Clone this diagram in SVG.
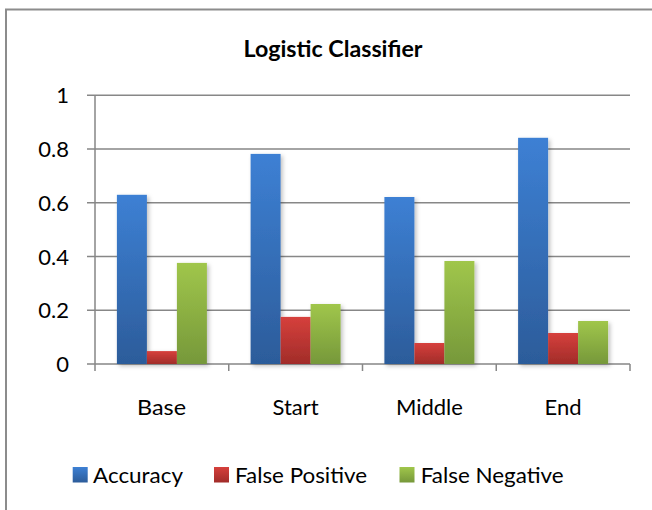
<svg xmlns="http://www.w3.org/2000/svg" width="652" height="510" viewBox="0 0 652 510">
<style>
  .grid{stroke:#878787;stroke-width:1.5;fill:none}
  .lbl{font-family:Lato,"Open Sans","Liberation Sans",sans-serif;font-size:22px;fill:#000}
  .ylbl{text-anchor:end}
  .cat{text-anchor:middle}
  .title{font-family:Lato,"Open Sans","Liberation Sans",sans-serif;font-size:22px;font-weight:bold;fill:#000;text-anchor:middle}
</style>
<defs>
  <linearGradient id="gBlue" x1="0" y1="0" x2="0" y2="1">
    <stop offset="0" stop-color="#3d80d4"/>
    <stop offset="1" stop-color="#2c5c9a"/>
  </linearGradient>
  <linearGradient id="gRed" x1="0" y1="0" x2="0" y2="1">
    <stop offset="0" stop-color="#d6403c"/>
    <stop offset="1" stop-color="#a12c29"/>
  </linearGradient>
  <linearGradient id="gGreen" x1="0" y1="0" x2="0" y2="1">
    <stop offset="0" stop-color="#a0c64b"/>
    <stop offset="1" stop-color="#76983a"/>
  </linearGradient>
  <filter id="sh" x="-20%" y="-5%" width="150%" height="115%">
    <feDropShadow dx="2" dy="2" stdDeviation="2" flood-color="#000" flood-opacity="0.25"/>
  </filter>
</defs>
<rect x="0" y="0" width="652" height="510" fill="#fff"/>
<path d="M6,520 L6,9.5 L660,9.5" stroke="#8c8c8c" stroke-width="2" fill="none"/>
<text id="title" class="title" x="333" y="57" textLength="179" lengthAdjust="spacingAndGlyphs">Logistic Classifier</text>
<g id="axes">
  <path class="grid" d="M87,95.3H630M87,149H630M87,202.8H630M87,256.5H630M87,310.3H630M87,364H630"/>
  <path class="grid" d="M95,95.3V364M95,364V371M228.75,364V371M362.5,364V371M496.25,364V371M630,364V371"/>
  <text class="lbl ylbl" x="69" y="103">1</text>
  <text class="lbl ylbl" x="69" y="157">0.8</text>
  <text class="lbl ylbl" x="69" y="211">0.6</text>
  <text class="lbl ylbl" x="69" y="264.5">0.4</text>
  <text class="lbl ylbl" x="69" y="318">0.2</text>
  <text class="lbl ylbl" x="69" y="372">0</text>
</g>
<g id="bars" filter="url(#sh)">
  <g id="base">
    <rect x="116.9" y="194.8" width="30" height="169.2" fill="url(#gBlue)"/>
    <rect x="146.9" y="351.1" width="30" height="12.9" fill="url(#gRed)"/>
    <rect x="176.9" y="262.9" width="30" height="101.1" fill="url(#gGreen)"/>
  </g>
  <g id="start">
    <rect x="250.6" y="153.9" width="30" height="210.1" fill="url(#gBlue)"/>
    <rect x="280.6" y="316.9" width="30" height="47.1" fill="url(#gRed)"/>
    <rect x="310.6" y="304" width="30" height="60" fill="url(#gGreen)"/>
  </g>
  <g id="middle">
    <rect x="384.4" y="197" width="30" height="167" fill="url(#gBlue)"/>
    <rect x="414.4" y="343" width="30" height="21" fill="url(#gRed)"/>
    <rect x="444.4" y="261" width="30" height="103" fill="url(#gGreen)"/>
  </g>
  <g id="end">
    <rect x="518.1" y="137.8" width="30" height="226.2" fill="url(#gBlue)"/>
    <rect x="548.1" y="333" width="30" height="31" fill="url(#gRed)"/>
    <rect x="578.1" y="321" width="30" height="43" fill="url(#gGreen)"/>
  </g>
</g>
<g id="categories">
  <text class="lbl cat" x="161.5" y="415" textLength="49" lengthAdjust="spacingAndGlyphs">Base</text>
  <text class="lbl cat" x="295.6" y="415">Start</text>
  <text class="lbl cat" x="429.4" y="415">Middle</text>
  <text class="lbl cat" x="563.1" y="415">End</text>
</g>
<g id="legend">
  <rect x="72.7" y="467" width="15" height="15.5" fill="url(#gBlue)"/>
  <text class="lbl" x="93" y="482.7" textLength="90" lengthAdjust="spacingAndGlyphs">Accuracy</text>
  <rect x="214" y="467" width="15" height="15.5" fill="url(#gRed)"/>
  <text class="lbl" x="235" y="482.7" textLength="132" lengthAdjust="spacingAndGlyphs">False Positive</text>
  <rect x="399.5" y="467" width="15" height="15.5" fill="url(#gGreen)"/>
  <text class="lbl" x="420.7" y="482.7" textLength="143" lengthAdjust="spacingAndGlyphs">False Negative</text>
</g>
</svg>
